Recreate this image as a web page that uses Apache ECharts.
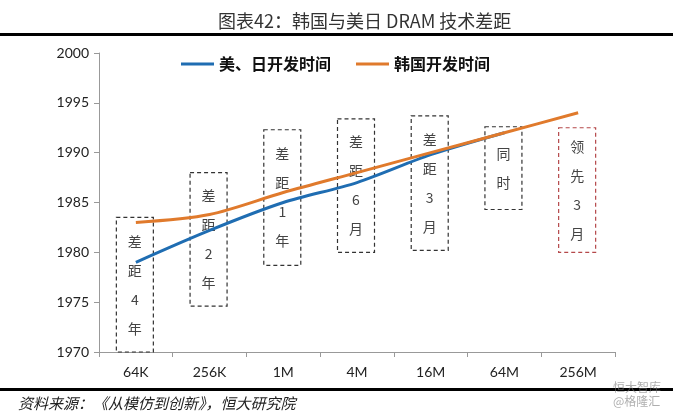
<!DOCTYPE html>
<html><head><meta charset="utf-8">
<script src="https://cdn.jsdelivr.net/npm/echarts@6/dist/echarts.min.js"></script>
<style>html,body{margin:0;padding:0;background:#fff}#c{width:673px;height:417px}</style>
</head><body><div id="c"></div>
<script>
const categories = ['64K','256K','1M','4M','16M','64M','256M'];
const usJapan = [1979, 1982.2, 1985, 1987, 1989.8, 1992, null];
const korea = [1983, 1983.8, 1986, 1988, 1990, 1992, 1994];
const yTicks = [1970, 1975, 1980, 1985, 1990, 1995, 2000];
const boxTop = [1983.5, 1988, 1992.3, 1993.4, 1993.7, 1992.6, 1992.5];
const boxBottom = [1970, 1974.6, 1978.7, 1980, 1980.2, 1984.3, 1980];
const boxLabels = ['差距4年','差距2年','差距1年','差距6月','差距3月','同时','领先3月'];
const boxRed = [0,0,0,0,0,0,1];

const chart = echarts.init(document.getElementById('c'));
const cjk = '"Noto Sans CJK SC", sans-serif';
chart.setOption({
  animation: false,
  title: {
    text: '图表42：韩国与美日 DRAM 技术差距',
    left: 213, top: 7,
    textStyle: {fontFamily: cjk, fontSize: 18, fontWeight: 'normal', color: '#333'}
  },
  legend: {
    top: 51, left: 176, itemGap: 25, itemWidth: 33, itemHeight: 3,
    icon: 'rect',
    textStyle: {fontFamily: cjk, fontSize: 16, fontWeight: 'bold', color: '#111'},
    data: ['美、日开发时间','韩国开发时间']
  },
  grid: {left: 99, right: 58, top: 53, bottom: 65},
  xAxis: {
    type: 'category', data: categories, boundaryGap: true,
    axisLine: {lineStyle: {color: '#999'}},
    axisTick: {show: true, length: 5, lineStyle: {color: '#999'}},
    axisLabel: {fontFamily: 'Lato, sans-serif', fontSize: 14, color: '#222', margin: 13}
  },
  yAxis: {
    type: 'value', min: yTicks[0], max: yTicks[yTicks.length-1], interval: 5,
    axisLine: {show: true, lineStyle: {color: '#999'}},
    axisTick: {show: true, inside: false, length: 5, lineStyle: {color: '#999'}},
    splitLine: {show: false},
    axisLabel: {fontFamily: 'Lato, sans-serif', fontSize: 14, color: '#222', margin: 10,
      formatter: function (v) { return String(v); }}
  },
  series: [
    {
      type: 'custom', name: 'boxes', z: 1, silent: true,
      data: boxLabels.map((t, i) => [i, boxTop[i], boxBottom[i], t, boxRed[i]]),
      encode: {x: 0, y: [1, 2]},
      renderItem: function (params, api) {
        const p1 = api.coord([api.value(0), api.value(1)]);
        const p2 = api.coord([api.value(0), api.value(2)]);
        const w = 37;
        const x = p1[0] - w/2 - 1;
        const red = api.value(4) === 1;
        const txt = boxLabels[params.dataIndex].split('').join('\n');
        return {
          type: 'group',
          children: [
            {type: 'rect', shape: {x: x, y: p1[1], width: w, height: p2[1]-p1[1]},
             style: {fill: 'rgba(255,255,255,0)', stroke: red ? '#b5484a' : '#333', lineWidth: 1.2, lineDash: [4,3]}},
            {type: 'text', style: {text: txt, x: x + w/2, y: (p1[1]+p2[1])/2, align: 'center', verticalAlign: 'middle',
              fontFamily: cjk, fontSize: 14, lineHeight: 29, fill: '#444'}}
          ]
        };
      }
    },
    {
      name: '美、日开发时间', type: 'line', data: usJapan, smooth: 0.3, z: 3,
      symbol: 'none', lineStyle: {width: 3, color: '#1f6db2'}, itemStyle: {color: '#1f6db2'}
    },
    {
      name: '韩国开发时间', type: 'line', data: korea, smooth: 0.3, z: 4,
      symbol: 'none', lineStyle: {width: 3, color: '#e07a2c'}, itemStyle: {color: '#e07a2c'}
    }
  ],
  graphic: [
    {type: 'rect', shape: {x: 0, y: 33, width: 673, height: 3}, style: {fill: '#000'}},
    {type: 'rect', shape: {x: 0, y: 388, width: 673, height: 3}, style: {fill: '#000'}},
    {type: 'text', left: 18, top: 396, style: {text: '资料来源：《从模仿到创新》，恒大研究院', fontFamily: cjk, fontSize: 15, fontStyle: 'italic', fill: '#222'}},
    {type: 'text', right: 12, top: 380, style: {text: '恒大智库\n@格隆汇', fontFamily: cjk, fontSize: 12, lineHeight: 14, align: 'right', fill: 'rgba(120,120,120,0.6)'}}
  ]
});
</script></body></html>
